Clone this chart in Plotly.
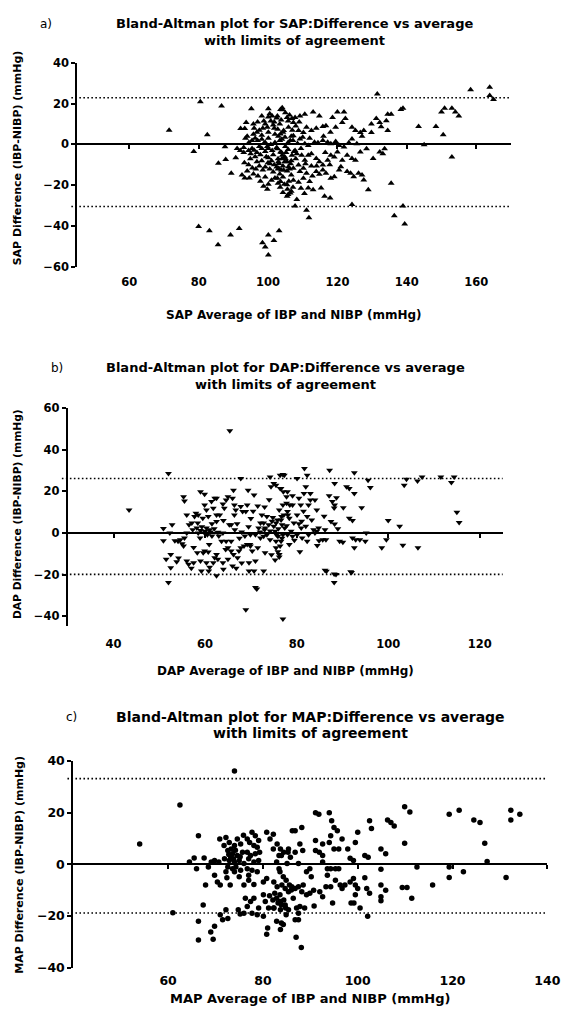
import plotly.graph_objects as go

W, H = 574, 1021

# ---------------- data: (average, difference) pairs per measurement ----------------
sap_points = [
    (71.5, 7), (78.6, -3.4), (80.5, 21), (82.5, 4.8), (86.6, 18.8), (85.7, -9.2), (87.6, -1.1),
    (87.8, -7.4), (89.4, -14.1), (80, -40.2), (83.1, -42.3), (85.6, -49.2), (89.2, -44.4),
    (91.7, -41.2), (98.4, -48.2), (99.2, -50.3), (100.1, -54.2), (100.1, -44.4), (101.7, -47.1),
    (103.2, -42.3),
    (95.2, 17.5), (100.1, 17.5), (104.2, 17),
    (98.2, 14), (100.1, 13.5), (101.2, 14), (102.5, 13),
    (93.7, 10.8), (95.8, 10), (97, 11), (99.2, 10), (101.8, 11), (103.4, 10), (105.8, 11.5),
    (92.1, 7.8), (93.3, 7.8), (95.8, 5), (96.8, 6), (98.2, 4.5), (100.1, 6), (102, 5), (104.3, 6), (106.7, 4),
    (95.4, 2), (96.3, 3), (98.2, 2.5), (99.2, 1), (100.1, 3), (102, 1), (103.4, 2), (105.8, 1), (107.2, 2),
    (91.1, -2), (93, -1.5), (94.4, -3), (95.4, -2), (96.8, -4), (98.2, -2), (99.2, -3.5), (100.1, -2),
    (101.2, -3), (102.5, -1.5), (103.9, -4), (105.8, -2.5), (107.5, -3.5),
    (90.7, -6.5), (94.9, -7), (96.3, -6), (98.2, -8), (100.1, -6.5), (101, -8), (102.9, -7), (104.8, -6), (106.7, -8),
    (94.4, -10), (99.2, -11), (100.6, -9.5), (102.9, -12), (104.3, -10.5), (106.2, -12),
    (92.5, -15), (93.3, -16.5), (97.1, -15.5), (99.2, -16), (102, -16.5), (103.4, -14.5), (104.3, -16), (106.7, -15),
    (98.7, -20.5), (100.1, -19.5), (102.9, -19), (105.6, -22), (107.2, -21),
    (104.3, -23.5), (105.8, -24.5), (106.7, -23),
    (97.5, -1), (98.8, 0.5), (99.8, -1), (100.8, 0), (96, -2.8), (97.8, -5), (99.5, -6), (101.5, -5),
    (97, 2), (94, 4), (93, -4), (92, -3), (95, -4.5), (98.5, 8), (99.8, 8.5), (100.8, 11.5), (101.8, 8),
    (103, 4), (104, 2.5), (105, -1), (104.8, -8.5), (103.8, -12.5), (102.5, -11), (101.5, -13.5),
    (100.5, -12), (103, -8.5), (105.5, -13), (106, -18), (107.3, -17.5), (104.7, -19.5), (96.5, -12),
    (95.8, -14.5), (94.6, -16.5),
    (93.5, 3), (94.5, 1), (96, 8), (97.5, 7), (98.8, 11.5), (100.5, 15), (101.5, 9.5), (102.8, 7.5),
    (103.8, 12), (105, 15.5), (106.2, 14.5), (107, 7), (108, 9), (109, 11), (108.5, 0.5), (109.5, -2),
    (110.8, -9.5), (108, -7), (106.5, -9.5), (105.2, -4), (104, -7), (101.8, -10), (100, -9), (98.5, -12.5),
    (97.5, -10.5), (96.8, -8.5), (95.5, -11.5), (94, -13), (93.2, -9), (97.8, -18), (99.8, -22),
    (101, -17.5), (103.5, -21), (108.8, -18.5), (109.5, -21.5), (110.5, -24), (112.5, -10.5),
    (112.8, -15.5), (114, -10.5), (116.5, -4), (116, 4), (118, 6), (119.5, 8.5), (117.8, -10), (112, 3),
    (110, 3.5),
    (103.6, 17.2), (104.1, 18), (102.7, 14), (105.5, 13.2), (106.9, 12.7), (107.8, 13.2), (109.2, 14),
    (110.6, 14.8), (113, 15.9), (114.8, 14), (120, 15.9), (121.9, 15.9), (122.3, 12.7), (121.4, 10.8),
    (118.6, 13.2), (116.7, 9.2), (115.8, 8.8), (113.9, 7.9), (112.5, 6.8), (111.1, 8.4), (110.2, 5.9),
    (108.8, 6.8), (107.3, 10.8), (105.9, 8.4), (104.5, 6.8), (103.6, 5.1), (104.9, 3.5), (106.4, 1.9),
    (107.3, 4.3), (109.2, 2.7), (110.6, 0.3), (111.6, -0.5), (113.4, 1.1), (114.4, 0.8), (115.8, 1.9),
    (117.2, 1.1), (118.1, 0.3), (119.5, 1.4), (120.5, -0.5), (121.9, -1.3), (123.3, 0.8), (124.2, 2.7),
    (125.6, 0.3), (124.2, 8.4), (125.2, 6.8), (126.6, 5.9), (127.6, 6.8), (127.1, 4), (129.8, 10),
    (131.2, 12.7), (132.2, 10.8), (132.6, 8.7), (134.1, 11.6), (134.5, 14.8), (135.5, 14.8), (134.5, 6.8),
    (129.8, 5.9), (131.5, 24.8),
    (138.3, 17.2), (138.9, 17.8), (143.4, 8.8), (145, -0.2), (148.4, 8.8), (150.5, 4.8), (150, 15.9),
    (150.9, 17.7), (153, 17.7), (154, 15.9), (155, 14), (153, -6.1), (158.4, 26.8), (163.9, 28),
    (163.9, 24), (165, 22),
    (102.7, -2.1), (103.6, -3.7), (104.1, -5.3), (105, -6.9), (103.1, -9.3), (105.5, -8.5), (106.9, -5.3),
    (107.8, -2.9), (108.3, -4.5), (109.7, -5.3), (110.6, -7.7), (111.6, -5.3), (112.5, -4.5), (113.9, -6.9),
    (114.8, -8.5), (115.8, -10.1), (117.2, -7.7), (118.1, -5.3), (119.1, -6.1), (120, -3.7), (121.4, -7.7),
    (122.8, -5.3), (124.2, -6.9), (125.2, -7.7), (126.6, -3.7), (128.4, -2.1), (130.3, -6.9), (132.2, -3.7),
    (133.1, -4.5), (133.6, -2.1),
    (103.1, -11.7), (104.5, -12.5), (105.9, -10.9), (107.3, -11.7), (108.8, -10.1), (109.2, -13.3),
    (110.2, -11.7), (111.1, -14.1), (113.9, -13.3), (114.8, -14.6), (115.8, -12.5), (116.7, -14.1),
    (118.1, -16.6), (119.1, -15.8), (120.5, -12.5), (121, -10.9), (122.8, -13.3), (123.8, -14.1),
    (124.7, -15.8), (126.1, -14.1), (127.1, -15), (127.6, -17.4), (128.9, -22.2), (135.5, -19),
    (102.7, -16.6), (103.6, -18.2), (105.5, -19.8), (106.4, -23.8), (105.5, -25.4), (108.3, -27),
    (107.8, -30.2), (111.1, -32.2), (111.8, -35.9), (111.6, -21.4), (113, -22.2), (115.3, -21.4),
    (116.3, -25.4), (117.9, -26.2), (112, -18.2), (110.2, -16.6), (124.2, -29.4), (136.4, -35),
    (138.9, -30.2), (139.4, -39),
]

dap_points = [
    (43.4, 11.1), (52, 28.6), (52, -23.8), (50.9, 2.1), (50.9, -3.7), (51.5, -12.7), (52.5, -16.7),
    (52.5, -10.3), (52.8, 4), (52.3, 0), (53.4, -3.7), (54.1, -4), (54.6, -3.2), (53.8, -13.8), (55, -5.2),
    (55.3, 17.5), (55.5, 15.4), (56, 8.7), (56.5, 4), (56, 0), (55.5, -2.4), (55.3, -6.3), (56, -13.5),
    (56.4, -15.1), (57.5, -14.3), (57.1, 4.8), (57.7, 7.9), (58, 9.5), (58.5, 8.7), (59, 19.8), (58.4, 4.8),
    (58.2, 2.4), (58.5, 0), (58.9, -2.4), (59, -13.5), (59.2, -18.3), (59.5, 7.1), (59.9, 18.6),
    (59.9, 13.5), (60.3, 11.1), (60.7, 7.9), (60.3, 2.4), (59.9, 0), (60.5, -0.8), (61, 1.6), (60.9, -5.6),
    (59.9, -8.7), (59.6, -9.5), (60.7, -9.2), (60.3, -14.3), (60.8, -18.3), (61.4, 15.1), (61.8, 11.9),
    (62.1, 16.7), (62.5, 8.7), (62.5, 16.7), (62.5, -10.3), (62.5, -20.6), (62.1, -11.9), (61.8, -14.3),
    (62.8, -12.7), (63.2, 8.7), (63.9, 0), (64.6, -4), (63.6, -4), (65.4, 49.2),
    (63.9, 14), (64.2, 11.9), (64.6, 15.9), (65, 17.5), (65.3, 4), (65.7, 4), (66, 16.7), (66.2, 20.6),
    (66.4, 13.5), (66.4, 8.7), (66.7, 11.1), (65.7, -4), (65, -7.1), (65.7, -8.7), (66.2, -10.3),
    (67.1, -11.9), (65, -12.7), (63.9, -14.3), (66, -15.9), (67.8, 26.2), (67.8, 12.7), (68.2, 10.3),
    (68.9, 10.3), (67.4, -8.7), (67.8, -7.1), (68.5, -6.3), (69.2, -5.6), (69.4, 20.6), (69.2, 13.5),
    (69.9, -0.8), (69.9, -6.3), (70.3, -8.7), (69.6, -14.3), (69.6, -18.3), (69.8, -5.6), (70.7, 18.3),
    (71, -0.8), (71, -26.2), (70.7, -18.3), (71, -13.5), (71.5, -7.1), (72.1, -2.4), (72.4, 8.7),
    (72.8, 4.8), (73.1, 2.4), (72.8, -18.3), (73.1, -9.5), (73.5, -0.8), (73.9, 4), (74.2, 27),
    (74.4, 22.2), (75, 23.8), (74.6, 5.6), (75, 3.2), (75.3, 0.8), (75.6, -0.8), (76.4, 27.8), (77, 28.1),
    (76.4, 21.4), (77.1, 19.8), (76.7, 7.9), (77.8, 17.5), (77.8, 14.3), (78.5, 13.5), (78.1, 8.7),
    (76.4, -6.3), (76.2, -10.3), (75.5, -4), (74.2, -3.2), (72.8, -1.6), (71.7, 2.4), (72.1, 4.8),
    (73.5, 7.9),
    (59, 1.2), (60, 0.8), (61.2, 0.5), (62, 2), (59.3, 3), (61.5, -1.5), (62.8, 0.4), (57.3, 1.5),
    (72, 0.5), (73, 1.5), (74.2, 1), (76, 2), (76.8, 4), (75.8, 6.2), (74.8, 7.5),
    (57.5, -7), (58.3, -9.5), (61.5, 4.5), (62.5, 5.5), (63, -1.5), (64, 6), (64.5, -8), (66.5, 1.5),
    (67, 4.5), (67.5, -2.5), (68, 0.5), (68.7, -1.5), (69.5, 3), (70, 7), (70.5, 10.5), (71.5, 13),
    (73, 12.5), (74, 16), (74.5, -10.5), (75.3, -13), (76.8, -2.5), (77.8, 3.5), (78.8, 0.8),
    (79.5, -3.5), (80.5, 4.5), (81.5, 10.5), (83, 19), (84.5, -6), (86, 8), (87.5, 5.5), (89, 2),
    (54.2, -12), (57, -17), (61, -16.5), (64, -17.5), (66.8, -17), (68, -14.5),
    (77.3, 27.8), (81.7, 31), (82.3, 27.8), (80.1, 26.2), (82, 22.2), (75.5, 23), (76.6, 21.4), (78, 19.8),
    (79.1, 17.9), (80.5, 16.7), (81.6, 19), (83, 15.9), (84, 15.9), (84.4, 11.1), (82.6, 13.5), (80.9, 13.5),
    (79.1, 13.5), (77, 13.5), (78, 10.3), (76.2, 11.1), (77.2, 8.7), (78.4, 7.1), (80.1, 8.7), (82.3, 7.9),
    (83.3, 6.3), (81.1, 5.6), (79.4, 4.8), (76.6, 6.3), (75.5, 4.8), (77.4, 2.4), (81, 2.4), (82, 3.2),
    (83.7, 1.6), (84.8, 2.4), (86.2, 1.6), (84.4, 0.8),
    (87.2, 30.2), (88.3, 23.8), (87.1, 17.9), (88.7, 16.9), (87.8, 15.1), (88.3, 13.5), (90.2, 12.2),
    (88.2, 12), (94.2, 12.2), (92.6, 29), (90.9, 22.2), (91.5, 21.4), (92.6, 19), (95.6, 25.4), (96.1, 21.9),
    (91.5, 7.1), (92.2, 6), (88.3, 4.3),
    (75.9, -1.6), (77, -0.8), (78, -0.8), (79.1, -1.6), (80.1, -0.8), (81.2, -2.4), (82.3, -4), (76.6, -4),
    (78.4, -5.6), (75.5, -7.1), (75.9, -9), (76.2, -11.6), (80.7, -9), (82.6, -0.8), (84, 0), (84.9, -3.7),
    (85.7, -3.2), (86.4, -3.2), (89.4, -4), (90.1, -4.4), (92.2, -2.4), (92.9, -3.2), (93.8, -3.2),
    (92.6, -7.1), (95, -4), (95.2, 0), (98.6, -7.1), (99.6, -3.2), (100, 6), (102.5, 3.2), (103.2, -5.9),
    (106.5, -7.1), (86.2, -17.9), (88.2, -19.8), (88.2, -23.8), (91.8, -18.7),
    (103.5, 23), (104, 25.9), (106.4, 25), (107.4, 27), (111.5, 27), (113.8, 24.3), (114.4, 27), (115, 10),
    (115.5, 5),
    (68.9, -37), (77, -41.4), (71.3, -27), (86.5, -18.4), (88.6, -20), (92, -19),
]

map_points = [
    (54, 7.9), (62.5, 23), (74, 36.2), (61, -18.7),
    (66.4, 11.1), (64.5, 0.9), (65.5, 2.5), (66, -1.7), (67.6, 2.5), (67.9, -8), (68.5, -1), (69.1, 0.9),
    (69.8, 1.5), (70.7, 0.9), (69.8, -4.2), (70.4, -6.8), (71, -8), (67.4, -15.7), (66.4, -22),
    (71, -19.5), (72.2, -17.6), (71.5, -21.4), (72.6, -21), (69, -26.2), (69.5, -29), (66.4, -29.3),
    (69.8, -24),
    (70.9, 9.8), (71.8, 7.3), (72.2, 10.4), (72.9, 8.5), (73.3, 6), (74, 7.3), (74.6, 9.8), (75.3, 7.9),
    (75.9, 11.3), (76.7, 9.8), (77.7, 12.4), (78.4, 11.1), (79.1, 9.2), (77.2, 8.5), (78.1, 7.3),
    (78.8, 6.6), (72.6, 5.4), (73.6, 4.1), (74.6, 3.4), (75.7, 4.7), (76.7, 4.7), (77.4, 3.4), (78.4, 4.1),
    (79.3, 4.7), (71.9, 2.2), (72.9, 1.5), (74, 0.9), (75, 1.5), (76, 0.3), (77, 2.2), (78.1, 0.9),
    (79.1, 1.5), (72.6, -1), (73.6, -1.7), (74.3, -1), (75.3, -2.3), (76.7, -1.7), (77.7, -2.3),
    (78.8, -2.9), (72.2, -2.9), (72.4, -5.2), (75, -4.8), (77, -4.2), (78.1, -7.8), (76, -8), (73.1, -8),
    (77, -6.1), (74, -2.9),
    (73.2, 3), (74.2, 5.5), (73.8, 2.2), (75.2, 3), (72.8, 3.8),
    (76.3, -13.1), (76.7, -16.3), (77.4, -14.4), (78.1, -13.1), (76, -18.9), (75.2, -19.2), (74.8, -17.6),
    (77.7, -18.9), (78.8, -19.5), (79.1, -16.9), (80.1, -11.8), (80.5, -14.4), (81.2, -16.9), (80.1, -20.1),
    (81, -24.6), (81.4, -12.1), (82.1, -13.8), (82.5, -11.2), (82.9, -13.1), (83.2, -15), (83.9, -15.7),
    (84.4, -13.8), (84.8, -16.9), (83.6, -11.8), (82.3, -16.9), (82.9, -22), (83.9, -22.7), (84.9, -19.5),
    (80.8, -27.1), (80.1, -6.8), (80.8, -5.5), (83.6, -2.9), (84.3, -4.8), (84.9, -6.1), (85.6, -8),
    (86, -9.9), (82.9, 0.9), (83.9, 3.4), (85.3, 4.7), (82.2, 6), (81.5, 9.8), (80.8, 12.4), (82.2, 11.7),
    (86.2, 13),
    (83, 7.9), (83.7, 6), (83.4, 3.4), (84.4, 4.7), (85.4, 6), (85.8, 2.8), (86.8, 13), (88.2, 14.3),
    (87.8, 7.9), (88.4, 5.4), (86.8, 4.7), (87.5, 0.3), (85.1, 0.3), (89.2, -2.9), (89.9, -1.7), (90.2, -4.8),
    (91.1, 9.2), (91.1, 20), (91.8, 19.4), (92.6, 7.9), (91.9, 4.7), (91.1, 5.4), (92.6, 3.4), (92.6, 0.9),
    (93.6, -1.7), (94, 20), (94.5, 16.9), (95, 14.3), (95.7, 13), (94.3, 11.1), (94, 8.5), (95, 6), (96, 6),
    (96.7, 9.8), (97.9, 6), (98.4, 2.4), (99.1, 1.5), (99.5, 8.5), (100, 12.4), (101.5, 3.4), (102.2, 2.8),
    (102.5, 16.9), (102.9, 13.9), (104.9, 6), (105.9, 4.1), (106.3, 17.2), (107, 16.2), (107.7, 14.9),
    (109.9, 22.3), (111, 20.3), (109.9, 8.2), (112.5, -1), (115.8, -8), (119.3, 19.4), (121.4, 21),
    (119.3, -1), (119.3, -5.1), (122.3, -2.9), (124.5, 17.2), (125.8, 16.2), (126.8, 8.2), (127.3, 1.1),
    (131.3, -5.1), (132.3, 21), (132.3, 17.2), (134.2, 19.4),
    (83.4, -1.7), (82.3, -6.8), (83, -8.7), (84, -8), (84.7, -9.3), (85.4, -10.6), (86.1, -8.7), (86.8, -9.3),
    (87.5, -8.7), (88.5, -8), (88.2, -10.6), (89.2, -11.8), (86.4, -13.1), (87.1, -16.9), (87.8, -16.3),
    (88.8, -16.9), (87.5, -18.9), (86.8, -21.4), (87.5, -21.4), (83.7, -17.6), (84.7, -15.7), (85.4, -17.6),
    (83.7, -14.4), (82.3, -16.9), (84.3, -23.3), (83.7, -25.2), (87, -28.2), (88.1, -32.2), (89.9, -11.2),
    (90.8, -16.1), (90.7, -10), (92, -10.6), (92.6, -12.5), (93.3, -8.7), (93.6, -4.2), (94.3, -1.7),
    (95.3, -1.7), (96, -1.7), (94.7, -15), (94.3, -8.7), (95.3, -6.1), (96.3, -8), (96.7, -9.3), (97.3, -8),
    (98.4, -6.8), (99.1, -5.5), (99.5, -8), (100, -9.3), (99.5, -11.8), (98.6, -15), (99.2, -15),
    (100.5, -16.9), (101.5, -5.2), (101.9, -9.3), (102.5, -11.2), (102.1, -20.1), (104.9, -1.9),
    (104.9, -8), (105.9, -10), (104.9, -12.5), (104.9, -14.1), (109.4, -9), (110.4, -9), (111.4, -13.1),
]

# limits of agreement (upper, lower)
sap_loa = [22.9, -30.4]
dap_loa = [26.2, -19.9]
map_loa = [33.2, -18.8]

sap_xticks = [60, 80, 100, 120, 140, 160]
sap_yticks = [-60, -40, -20, 0, 20, 40]
dap_xticks = [40, 60, 80, 100, 120]
dap_yticks = [-40, -20, 0, 20, 40, 60]
map_xticks = [60, 80, 100, 120, 140]
map_yticks = [-40, -20, 0, 20, 40]

FONT = "DejaVu Sans"

# panel layout in page pixels
panels = [
    dict(tag="a)", name="SAP", pts=sap_points, loa=sap_loa, xt=sap_xticks, yt=sap_yticks,
         symbol="triangle-up", size=6,
         xr=[45, 170], yr=[-60, 40], box=(79, 522.7, 55.7, 262.7),
         tagpos=(47, 16), t1=16, t2=33, tfs=13, xtitle_y=312, ytitle=(18, 152),
         tickfs=11.5, axfs=12, ytfs=11, xlab_pad=7),
    dict(tag="b)", name="DAP", pts=dap_points, loa=dap_loa, xt=dap_xticks, yt=dap_yticks,
         symbol="triangle-down", size=6,
         xr=[30, 125], yr=[-45, 60], box=(69.3, 514.3, 406.3, 627.7),
         tagpos=(58, 365), t1=365, t2=382, tfs=13, xtitle_y=673, ytitle=(18, 514),
         tickfs=11.5, axfs=12, ytfs=10.7, xlab_pad=9),
    dict(tag="c)", name="MAP", pts=map_points, loa=map_loa, xt=map_xticks, yt=map_yticks,
         symbol="circle", size=5.5,
         xr=[40, 140], yr=[-40, 40], box=(75, 560, 764.3, 974),
         tagpos=(73, 720), t1=720, t2=736, tfs=14, xtitle_y=1005, ytitle=(20, 870),
         tickfs=12.5, axfs=13, ytfs=11, xlab_pad=4),
]

fig = go.Figure()
layout = dict(
    width=W, height=H,
    margin=dict(l=0, r=0, t=0, b=0),
    paper_bgcolor="white", plot_bgcolor="white",
    showlegend=False,
    font=dict(family=FONT, color="black"),
)
shapes, annotations = [], []

for i, p in enumerate(panels):
    n = i + 1
    sfx = "" if n == 1 else str(n)
    over = 3 + n  # overlay axis carrying the zero line
    x0p, x1p, ytop, ybot = p["box"]
    xdom = [x0p / W, x1p / W]
    ydom = [1 - ybot / H, 1 - ytop / H]

    xs = [q[0] for q in p["pts"]]
    ys = [q[1] for q in p["pts"]]
    fig.add_trace(go.Scatter(
        x=xs, y=ys, mode="markers",
        xaxis="x" + sfx, yaxis="y" + sfx,
        marker=dict(symbol=p["symbol"], size=p["size"], color="black", line=dict(width=0)),
        hoverinfo="skip",
    ))
    # empty trace so the zero-line axis gets drawn
    fig.add_trace(go.Scatter(x=[], y=[], xaxis="x" + str(over), yaxis="y" + sfx,
                             mode="markers", hoverinfo="skip"))

    tickfont = dict(family=FONT, size=p["tickfs"], color="black", weight="bold")
    layout["xaxis" + sfx] = dict(
        domain=xdom, range=p["xr"], anchor="y" + sfx,
        tickvals=p["xt"], ticks="", showline=False, showgrid=False, zeroline=False,
        tickfont=tickfont, ticklabelstandoff=p["xlab_pad"], fixedrange=True,
    )
    layout["yaxis" + sfx] = dict(
        domain=ydom, range=p["yr"], anchor="x" + sfx,
        tickvals=p["yt"], ticks="outside", ticklen=4, tickwidth=1.5, tickcolor="black",
        showline=True, linewidth=2, linecolor="black",
        showgrid=False, zeroline=False, tickfont=tickfont, fixedrange=True,
    )
    y0frac = ydom[0] + (0 - p["yr"][0]) / (p["yr"][1] - p["yr"][0]) * (ydom[1] - ydom[0])
    layout["xaxis" + str(over)] = dict(
        overlaying="x" + sfx, anchor="free", position=y0frac, range=p["xr"],
        tickvals=p["xt"], ticks="outside", ticklen=4, tickwidth=1.5, tickcolor="black",
        showline=True, linewidth=1.5, linecolor="black", showticklabels=False,
        showgrid=False, zeroline=False, fixedrange=True,
    )

    # dotted limits of agreement
    lead = -6 / (x1p - x0p)
    for v in p["loa"]:
        shapes.append(dict(type="line", xref="x" + sfx + " domain", yref="y" + sfx,
                           x0=lead, x1=1, y0=v, y1=v,
                           line=dict(color="black", width=1.6, dash="1.6px,2.4px")))

    cx = (x0p + x1p) / 2 / W
    annotations += [
        dict(text=p["tag"], x=p["tagpos"][0] / W, y=1 - p["tagpos"][1] / H, xref="paper", yref="paper",
             showarrow=False, xanchor="center", yanchor="middle",
             font=dict(family=FONT, size=12, color="black")),
        dict(text=f"Bland-Altman plot for {p['name']}:Difference vs average", x=cx, y=1 - p["t1"] / H,
             xref="paper", yref="paper", showarrow=False, xanchor="center", yanchor="middle",
             font=dict(family=FONT, size=p["tfs"], color="black", weight="bold")),
        dict(text="with limits of agreement", x=cx, y=1 - p["t2"] / H,
             xref="paper", yref="paper", showarrow=False, xanchor="center", yanchor="middle",
             font=dict(family=FONT, size=p["tfs"], color="black", weight="bold")),
        dict(text=f"{p['name']} Average of IBP and NIBP (mmHg)", x=cx, y=1 - p["xtitle_y"] / H,
             xref="paper", yref="paper", showarrow=False, xanchor="center", yanchor="middle",
             font=dict(family=FONT, size=p["axfs"], color="black", weight="bold")),
        dict(text=f"{p['name']} Difference (IBP-NIBP) (mmHg)", x=p["ytitle"][0] / W,
             y=1 - p["ytitle"][1] / H, xref="paper", yref="paper", showarrow=False,
             xanchor="center", yanchor="middle", textangle=-90,
             font=dict(family=FONT, size=p["ytfs"], color="black", weight="bold")),
    ]

layout["shapes"] = shapes
layout["annotations"] = annotations
fig.update_layout(**layout)
fig.write_html("out.html")
